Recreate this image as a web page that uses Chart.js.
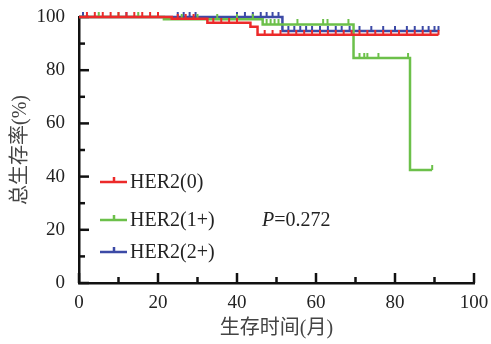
<!DOCTYPE html>
<html>
<head>
<meta charset="utf-8">
<script src="https://cdn.jsdelivr.net/npm/chart.js@4.4.0/dist/chart.umd.min.js"></script>
<style>
html, body { margin: 0; padding: 0; background: #fff; }
#wrap { width: 491px; height: 344px; }
</style>
</head>
<body>
<div id="wrap"><canvas id="js--chart"></canvas></div>
<script>
// km curves, censor = 1 means a censored case (little tick)
const labelsGroup = ['HER2(0)', 'HER2(1+)', 'HER2(2+)'];
const colorsGroup = ['#ec2a2a', '#6cc04a', '#3c4aa6'];

const timeRed = [0, 2, 4, 6, 8, 10, 12, 14, 16, 18, 20, 23.5, 25, 27, 29, 32.5, 34, 36, 38, 40, 43.4, 45.2, 47, 49, 51, 53, 55, 57, 59, 61, 63, 65, 67, 69, 71, 73, 75, 77, 79, 81, 83, 85, 87, 89, 91];
const survRed = [100, 100, 100, 100, 100, 100, 100, 100, 100, 100, 100, 99.3, 99.3, 99.3, 99.3, 97.8, 97.8, 97.8, 97.8, 97.8, 96.3, 93.3, 93.3, 93.3, 93.3, 93.3, 93.3, 93.3, 93.3, 93.3, 93.3, 93.3, 93.3, 93.3, 93.3, 93.3, 93.3, 93.3, 93.3, 93.3, 93.3, 93.3, 93.3, 93.3, 93.3];
const censRed = [0, 1, 1, 1, 1, 1, 1, 1, 1, 1, 1, 0, 1, 1, 1, 0, 1, 1, 1, 1, 0, 0, 1, 1, 1, 1, 1, 1, 1, 1, 1, 1, 1, 1, 1, 1, 1, 1, 1, 1, 1, 1, 1, 1, 1];

const timeGreen = [0, 5, 10, 15, 21.5, 26, 30, 35, 40, 44, 46.5, 47.5, 48.5, 49.5, 50.5, 55.3, 61.8, 62.9, 68.2, 69.5, 71, 72.2, 73, 75.8, 83.3, 83.8, 89.4];
const survGreen = [100, 100, 100, 100, 99.2, 99.2, 99.2, 99.2, 99.2, 99.2, 97.2, 97.2, 97.2, 97.2, 97.2, 97.2, 97.2, 97.2, 97.2, 84.6, 84.6, 84.6, 84.6, 84.6, 84.6, 42.5, 42.5];
const censGreen = [0, 1, 1, 1, 0, 1, 1, 1, 1, 1, 0, 1, 1, 1, 1, 1, 1, 1, 1, 0, 1, 1, 1, 1, 1, 0, 1];

const timeBlue = [0, 1, 12, 25, 26.5, 28, 29.5, 40, 42, 44, 46, 47.5, 49, 50.5, 51.5, 53, 54.5, 56, 57.5, 59, 61, 63, 65, 66.5, 68.5, 71, 74, 77, 80, 83, 85, 87, 88.5, 90, 91];
const survBlue = [100, 100, 100, 100, 100, 100, 100, 100, 100, 100, 100, 100, 100, 100, 94.7, 94.7, 94.7, 94.7, 94.7, 94.7, 94.7, 94.7, 94.7, 94.7, 94.7, 94.7, 94.7, 94.7, 94.7, 94.7, 94.7, 94.7, 94.7, 94.7, 94.7];
const censBlue = [0, 1, 1, 1, 1, 1, 1, 1, 1, 1, 1, 1, 1, 1, 0, 1, 1, 1, 1, 1, 1, 1, 1, 1, 1, 1, 1, 1, 1, 1, 1, 1, 1, 1, 1];

const majorTicks = [0, 20, 40, 60, 80, 100];
const minorTicks = [10, 30, 50, 70, 90];
const pText = '=0.272';

function makeTick(color) {
    const c = document.createElement('canvas');
    c.width = 4;
    c.height = 10;
    const g = c.getContext('2d');
    g.fillStyle = color;
    g.fillRect(1, 0, 2, 5);
    return c;
}

function makeSet(label, color, times, surv, cens) {
    const tick = makeTick(color);
    return {
        label: label,
        data: times.map(function (t, i) { return { x: t, y: surv[i] }; }),
        borderColor: color,
        backgroundColor: color,
        borderWidth: 2.5,
        stepped: true,
        fill: false,
        clip: false,
        pointStyle: tick,
        pointRadius: function (ctx) { return cens[ctx.dataIndex] ? 3 : 0; },
        pointHoverRadius: 0
    };
}

const axisTicks = {
    id: 'axisTicks',
    beforeDatasetsDraw(chart) {
        const { ctx, chartArea, scales } = chart;
        ctx.save();
        ctx.strokeStyle = '#111';
        ctx.lineWidth = 2.5;
        const draw = function (v, len) {
            const x = scales.x.getPixelForValue(v);
            ctx.beginPath();
            ctx.moveTo(x, chartArea.bottom);
            ctx.lineTo(x, chartArea.bottom - len);
            ctx.stroke();
            const y = scales.y.getPixelForValue(v);
            ctx.beginPath();
            ctx.moveTo(chartArea.left, y);
            ctx.lineTo(chartArea.left + len, y);
            ctx.stroke();
        };
        majorTicks.forEach(function (v) { draw(v, 10); });
        minorTicks.forEach(function (v) { draw(v, 6); });
        ctx.restore();
    }
};

const kmLegend = {
    id: 'kmLegend',
    afterDraw(chart) {
        const ctx = chart.ctx;
        const rows = [182, 220, 252];
        ctx.save();
        ctx.font = '20px "Liberation Serif"';
        ctx.textBaseline = 'middle';
        chart.data.datasets.forEach(function (ds, i) {
            const y = rows[i];
            ctx.strokeStyle = ds.borderColor;
            ctx.lineWidth = 2.5;
            ctx.beginPath();
            ctx.moveTo(100, y);
            ctx.lineTo(127, y);
            ctx.moveTo(114, y);
            ctx.lineTo(114, y - 5);
            ctx.stroke();
            ctx.fillStyle = '#222';
            ctx.fillText(ds.label, 130, y + 1);
        });
        ctx.font = 'italic 20px "Liberation Serif"';
        ctx.fillText('P', 262, rows[1] + 1);
        const w = ctx.measureText('P').width;
        ctx.font = '20px "Liberation Serif"';
        ctx.fillText(pText, 262 + w, rows[1] + 1);
        ctx.restore();
    }
};

const data = {
    datasets: [
        makeSet(labelsGroup[0], colorsGroup[0], timeRed, survRed, censRed),
        makeSet(labelsGroup[1], colorsGroup[1], timeGreen, survGreen, censGreen),
        makeSet(labelsGroup[2], colorsGroup[2], timeBlue, survBlue, censBlue)
    ]
};

const config = {
    type: 'line',
    data: data,
    options: {
        responsive: true,
        maintainAspectRatio: false,
        animation: false,
        layout: { padding: { left: 0, top: 17, right: 17, bottom: 0 } },
        plugins: { legend: { display: false }, tooltip: { enabled: false } },
        scales: {
            x: {
                type: 'linear',
                min: 0,
                max: 100,
                afterFit: function (scale) {
                    scale.height = 61;
                    scale.paddingLeft = 0;
                    scale.paddingRight = 0;
                },
                grid: { display: false, drawTicks: false },
                border: { display: true, color: '#111', width: 2.5 },
                ticks: {
                    stepSize: 20,
                    padding: 9,
                    color: '#222',
                    font: { family: 'Liberation Serif', size: 19 }
                },
                title: {
                    display: true,
                    text: '生存时间(月)',
                    color: '#444',
                    padding: { top: 0, bottom: 3 },
                    font: { family: '"Liberation Serif", "Noto Sans CJK SC"', size: 20 }
                }
            },
            y: {
                min: 0,
                max: 100,
                afterFit: function (scale) {
                    scale.width = 79;
                    scale.paddingTop = 0;
                    scale.paddingBottom = 0;
                },
                grid: { display: false, drawTicks: false },
                border: { display: true, color: '#111', width: 2.5 },
                ticks: {
                    stepSize: 20,
                    padding: 14,
                    color: '#222',
                    font: { family: 'Liberation Serif', size: 19 }
                },
                title: {
                    display: true,
                    text: '总生存率(%)',
                    color: '#444',
                    padding: { top: 9, bottom: 0 },
                    font: { family: '"Liberation Serif", "Noto Sans CJK SC"', size: 20 }
                }
            }
        }
    },
    plugins: [axisTicks, kmLegend]
};

new Chart(document.getElementById('js--chart'), config);
</script>
</body>
</html>
